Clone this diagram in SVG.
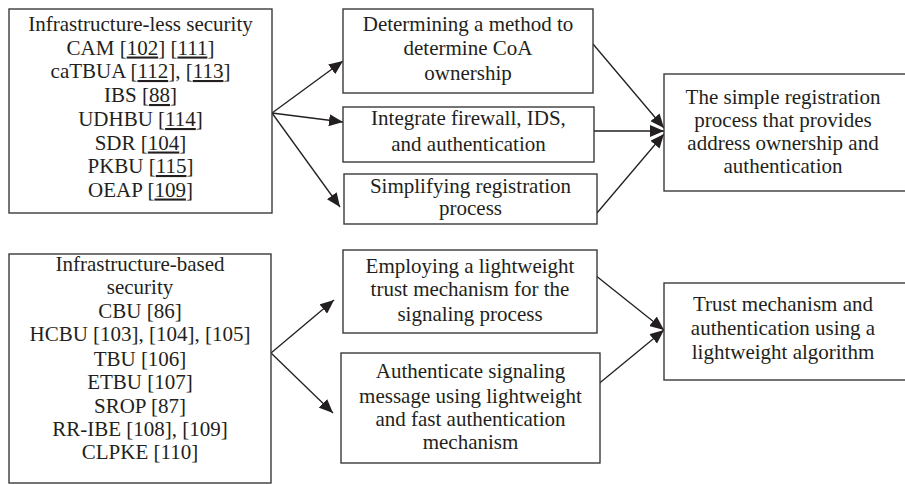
<svg xmlns="http://www.w3.org/2000/svg" width="905" height="484" viewBox="0 0 905 484">
  <style>
    .box { fill: #ffffff; stroke: #3a3a3a; stroke-width: 1.4; }
    .lbl { font-family: "Liberation Serif", "Times New Roman", serif; font-size: 21px; fill: #231f20; text-anchor: middle; }
    .u { text-decoration: underline; }
    .edge { fill: none; stroke: #231f20; stroke-width: 1.3; marker-end: url(#arrow); }
  </style>
  <defs>
    <marker id="arrow" markerUnits="userSpaceOnUse" markerWidth="15" markerHeight="12" refX="14" refY="6" orient="auto">
      <path d="M0,0 L14,6 L0,12 Z" fill="#231f20"/>
    </marker>
  </defs>

  <rect width="905" height="484" fill="#ffffff"/>

  <!-- connectors -->
  <g id="connectors">
    <line class="edge" x1="272" y1="113" x2="343" y2="61"/>
    <line class="edge" x1="272" y1="113" x2="343" y2="122"/>
    <line class="edge" x1="272" y1="113" x2="340" y2="207"/>
    <line class="edge" x1="593" y1="44" x2="664" y2="128"/>
    <line class="edge" x1="594" y1="131" x2="664" y2="131"/>
    <line class="edge" x1="597" y1="213" x2="664" y2="134"/>

    <line class="edge" x1="271" y1="353" x2="334" y2="300"/>
    <line class="edge" x1="271" y1="353" x2="333" y2="413"/>
    <line class="edge" x1="595" y1="275" x2="664" y2="330"/>
    <line class="edge" x1="596" y1="386" x2="664" y2="330"/>
  </g>

  <!-- infrastructure-less schemes -->
  <g id="less-security">
    <rect class="box" x="9" y="9" width="263" height="204"/>
    <text class="lbl" x="140.5" y="31">Infrastructure-less security</text>
    <text class="lbl" x="140.5" y="54.5">CAM [<tspan class="u">102</tspan>] [<tspan class="u">111</tspan>]</text>
    <text class="lbl" x="140.5" y="78">caTBUA [<tspan class="u">112</tspan>], [<tspan class="u">113</tspan>]</text>
    <text class="lbl" x="140.5" y="102">IBS [<tspan class="u">88</tspan>]</text>
    <text class="lbl" x="140.5" y="126">UDHBU [<tspan class="u">114</tspan>]</text>
    <text class="lbl" x="140.5" y="149.5">SDR [<tspan class="u">104</tspan>]</text>
    <text class="lbl" x="140.5" y="173">PKBU [<tspan class="u">115</tspan>]</text>
    <text class="lbl" x="140.5" y="196.5">OEAP [<tspan class="u">109</tspan>]</text>
  </g>

  <g id="coa-ownership">
    <rect class="box" x="343" y="9" width="250" height="84"/>
    <text class="lbl" x="468" y="31">Determining a method to</text>
    <text class="lbl" x="468" y="55">determine CoA</text>
    <text class="lbl" x="468" y="80">ownership</text>
  </g>

  <g id="firewall-ids">
    <rect class="box" x="343" y="107" width="251" height="55"/>
    <text class="lbl" x="468.5" y="125">Integrate firewall, IDS,</text>
    <text class="lbl" x="468.5" y="151">and authentication</text>
  </g>

  <g id="simplify-registration">
    <rect class="box" x="344" y="174" width="253" height="50"/>
    <text class="lbl" x="470.5" y="193">Simplifying registration</text>
    <text class="lbl" x="470.5" y="215">process</text>
  </g>

  <g id="simple-registration">
    <rect class="box" x="664" y="74" width="245" height="117"/>
    <text class="lbl" x="783" y="104">The simple registration</text>
    <text class="lbl" x="783" y="127">process that provides</text>
    <text class="lbl" x="783" y="150">address ownership and</text>
    <text class="lbl" x="783" y="173">authentication</text>
  </g>

  <!-- infrastructure-based schemes -->
  <g id="based-security">
    <rect class="box" x="9" y="254" width="262" height="229"/>
    <text class="lbl" x="140" y="271">Infrastructure-based</text>
    <text class="lbl" x="140" y="294">security</text>
    <text class="lbl" x="140" y="318">CBU [86]</text>
    <text class="lbl" x="140" y="341">HCBU [103], [104], [105]</text>
    <text class="lbl" x="140" y="366">TBU [106]</text>
    <text class="lbl" x="140" y="389">ETBU [107]</text>
    <text class="lbl" x="140" y="413">SROP [87]</text>
    <text class="lbl" x="140" y="436">RR-IBE [108], [109]</text>
    <text class="lbl" x="140" y="459">CLPKE [110]</text>
  </g>

  <g id="trust-signaling">
    <rect class="box" x="343" y="250" width="254" height="83"/>
    <text class="lbl" x="470" y="273">Employing a lightweight</text>
    <text class="lbl" x="470" y="296">trust mechanism for the</text>
    <text class="lbl" x="470" y="321">signaling process</text>
  </g>

  <g id="fast-authentication">
    <rect class="box" x="341" y="353" width="259" height="110"/>
    <text class="lbl" x="470.5" y="378">Authenticate signaling</text>
    <text class="lbl" x="470.5" y="403">message using lightweight</text>
    <text class="lbl" x="470.5" y="426">and fast authentication</text>
    <text class="lbl" x="470.5" y="449">mechanism</text>
  </g>

  <g id="trust-authentication">
    <rect class="box" x="664" y="283" width="245" height="97"/>
    <text class="lbl" x="783" y="311">Trust mechanism and</text>
    <text class="lbl" x="783" y="335">authentication using a</text>
    <text class="lbl" x="783" y="359">lightweight algorithm</text>
  </g>
</svg>
